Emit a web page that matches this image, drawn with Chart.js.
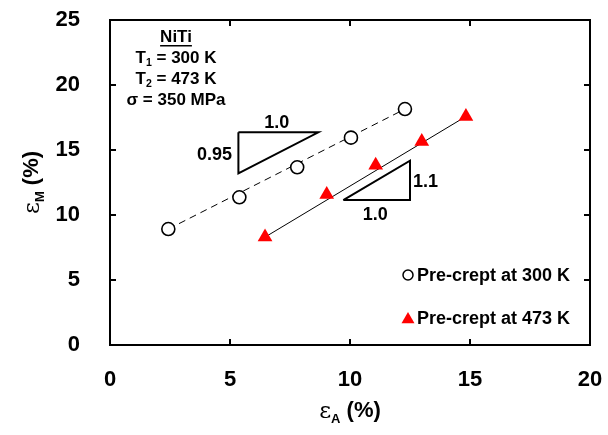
<!DOCTYPE html>
<html><head><meta charset="utf-8">
<script src="https://cdn.jsdelivr.net/npm/chart.js@4/dist/chart.umd.min.js"></script>
<style>html,body{margin:0;padding:0;background:#fff}#wrap{width:608px;height:435px;position:relative}</style>
</head><body><div id="wrap"><canvas id="c"></canvas></div>
<script>
// Measured strains (%) for the two pre-creep temperatures
const epsA300 = [2.43, 5.39, 7.80, 10.04, 12.29];
const epsM300 = [8.92, 11.36, 13.67, 15.95, 18.15];
const epsA473 = [6.46, 9.03, 11.07, 12.99, 14.83];
const epsM473 = [8.30, 11.58, 13.82, 15.66, 17.58];

// Trend lines through each series (end points)
const trend300X = [2.43, 12.29];
const trend300Y = [8.92, 18.15];
const trend473X = [6.46, 14.83];
const trend473Y = [8.30, 17.58];

// Slope triangles (closed outlines)
const slopeTriAX = [5.35, 8.68, 5.35, 5.35];
const slopeTriAY = [16.36, 16.36, 13.21, 16.36];
const slopeTriBX = [9.72, 12.50, 12.50, 9.72];
const slopeTriBY = [11.15, 11.15, 14.18, 11.15];
const slopeText = ['1.0', '0.95', '1.1', '1.0'];
const slopeTextX = [6.95, 4.35, 13.15, 11.05];
const slopeTextY = [17.05, 14.65, 12.55, 10.0];

const xTicks = [0, 5, 10, 15, 20];
const yTicks = [0, 5, 10, 15, 20, 25];
const legendLabels = ['Pre-crept at 300 K', 'Pre-crept at 473 K'];
const infoLines = ['NiTi', 'T|1| = 300 K', 'T|2| = 473 K', '\u03c3 = 350 MPa'];

const FONT = '"Liberation Sans", Arial, sans-serif';
const toPts = (xs, ys) => xs.map((x, i) => ({x, y: ys[i]}));

// Draws text where segments between | are subscripts
function drawRich(ctx, str, cx, cy, size) {
  const parts = str.split('|');
  const pieces = parts.map((p, i) => ({t: p, sub: i % 2 === 1}));
  let w = 0;
  pieces.forEach(p => { ctx.font = 'bold ' + (p.sub ? size * 0.62 : size) + 'px ' + FONT; p.w = ctx.measureText(p.t).width; w += p.w; });
  let x = cx - w / 2;
  ctx.textBaseline = 'middle';
  ctx.textAlign = 'left';
  pieces.forEach(p => {
    ctx.font = 'bold ' + (p.sub ? size * 0.62 : size) + 'px ' + FONT;
    ctx.fillText(p.t, x, p.sub ? cy + size * 0.32 : cy);
    x += p.w;
  });
  return {left: cx - w / 2, width: w};
}

function fixScale(s, key, val) {
  s[key] = val;
  s.paddingTop = 0; s.paddingBottom = 0; s.paddingLeft = 0; s.paddingRight = 0;
}

const decor = {
  id: 'decor',
  afterDraw(chart) {
    const {ctx, chartArea: a, scales: {x, y}} = chart;
    ctx.save();
    ctx.fillStyle = '#000';
    ctx.strokeStyle = '#000';
    // frame
    ctx.lineWidth = 2;
    ctx.strokeRect(a.left, a.top, a.right - a.left, a.bottom - a.top);
    // inward mirrored ticks
    const tl = 6;
    ctx.beginPath();
    xTicks.forEach(v => {
      const px = Math.round(x.getPixelForValue(v));
      ctx.moveTo(px, a.bottom); ctx.lineTo(px, a.bottom - tl);
      ctx.moveTo(px, a.top); ctx.lineTo(px, a.top + tl);
    });
    yTicks.forEach(v => {
      const py = Math.round(y.getPixelForValue(v));
      ctx.moveTo(a.left, py); ctx.lineTo(a.left + tl, py);
      ctx.moveTo(a.right, py); ctx.lineTo(a.right - tl, py);
    });
    ctx.stroke();

    // slope labels
    ctx.font = 'bold 18px ' + FONT;
    ctx.textAlign = 'center';
    ctx.textBaseline = 'middle';
    slopeText.forEach((t, i) => ctx.fillText(t, x.getPixelForValue(slopeTextX[i]), y.getPixelForValue(slopeTextY[i])));

    // info block
    const cx = a.left + 66;
    infoLines.forEach((ln, i) => {
      const cy = a.top + 17 + i * 21;
      const r = drawRich(ctx, ln, cx, cy, 17);
      if (i === 0) {
        ctx.fillRect(r.left, cy + 8, r.width, 1.5);
      }
    });

    // legend
    const lx = a.right - 182, ly0 = a.top + 255, gap = 43;
    ctx.lineWidth = 1.5;
    ctx.beginPath();
    ctx.arc(lx, ly0, 5, 0, Math.PI * 2);
    ctx.stroke();
    ctx.fillStyle = '#ff0000';
    ctx.beginPath();
    const tr = 7.5, ty = ly0 + gap + 1.5;
    ctx.moveTo(lx, ty - tr);
    ctx.lineTo(lx + tr * 0.866, ty + tr / 2);
    ctx.lineTo(lx - tr * 0.866, ty + tr / 2);
    ctx.closePath();
    ctx.fill();
    ctx.fillStyle = '#000';
    ctx.font = 'bold 18px ' + FONT;
    ctx.textAlign = 'left';
    ctx.textBaseline = 'middle';
    legendLabels.forEach((t, i) => ctx.fillText(t, lx + 9, ly0 + i * gap + 1));

    // axis titles
    const drawTitle = (sub, px, py) => {
      ctx.textBaseline = 'middle';
      ctx.textAlign = 'left';
      ctx.font = '23px "DejaVu Serif", serif';
      const w1 = ctx.measureText('\u03b5').width;
      ctx.font = 'bold 13px ' + FONT;
      const w2 = ctx.measureText(sub).width;
      ctx.font = 'bold 22px ' + FONT;
      const w3 = ctx.measureText(' (%)').width;
      let sx = px - (w1 + w2 + w3) / 2;
      ctx.font = '23px "DejaVu Serif", serif';
      ctx.fillText('\u03b5', sx, py + 1); sx += w1;
      ctx.font = 'bold 13px ' + FONT;
      ctx.fillText(sub, sx, py + 8); sx += w2;
      ctx.font = 'bold 22px ' + FONT;
      ctx.fillText(' (%)', sx, py);
    };
    drawTitle('A', (a.left + a.right) / 2, 411);
    ctx.save();
    ctx.translate(32, (a.top + a.bottom) / 2);
    ctx.rotate(-Math.PI / 2);
    drawTitle('M', 0, 0);
    ctx.restore();
    ctx.restore();
  }
};

new Chart(document.getElementById('c'), {
  type: 'scatter',
  data: {
    datasets: [
      {label: 'trend300', data: toPts(trend300X, trend300Y), showLine: true, borderColor: '#000', borderWidth: 1, borderDash: [7, 5], pointRadius: 0, order: 5},
      {label: 'trend473', data: toPts(trend473X, trend473Y), showLine: true, borderColor: '#000', borderWidth: 1, pointRadius: 0, order: 5},
      {label: 'slopeA', data: toPts(slopeTriAX, slopeTriAY), showLine: true, borderColor: '#000', borderWidth: 2, pointRadius: 0, order: 4},
      {label: 'slopeB', data: toPts(slopeTriBX, slopeTriBY), showLine: true, borderColor: '#000', borderWidth: 2, pointRadius: 0, order: 4},
      {label: legendLabels[0], data: toPts(epsA300, epsM300), pointStyle: 'circle', pointRadius: 6.5, pointBorderWidth: 1.6, pointBorderColor: '#000', pointBackgroundColor: '#fff', order: 1},
      {label: legendLabels[1], data: toPts(epsA473, epsM473), pointStyle: 'triangle', pointRadius: 8.5, pointBorderWidth: 0, pointBorderColor: '#ff0000', pointBackgroundColor: '#ff0000', order: 1}
    ]
  },
  options: {
    responsive: true,
    maintainAspectRatio: false,
    animation: false,
    events: [],
    layout: {padding: {top: 20, right: 18, left: 0, bottom: 0}},
    plugins: {legend: {display: false}, tooltip: {enabled: false}},
    scales: {
      x: {
        type: 'linear', min: 0, max: 20,
        afterBuildTicks: s => { s.ticks = xTicks.map(v => ({value: v})); },
        afterFit: s => fixScale(s, 'height', 90),
        grid: {display: false}, border: {display: false},
        ticks: {color: '#000', font: {family: FONT, size: 22, weight: 'bold'}, padding: 14, maxRotation: 0}
      },
      y: {
        type: 'linear', min: 0, max: 25,
        afterBuildTicks: s => { s.ticks = yTicks.map(v => ({value: v})); },
        afterFit: s => fixScale(s, 'width', 110),
        grid: {display: false}, border: {display: false},
        ticks: {color: '#000', font: {family: FONT, size: 22, weight: 'bold'}, padding: 22}
      }
    }
  },
  plugins: [decor]
});
</script>
</body></html>
